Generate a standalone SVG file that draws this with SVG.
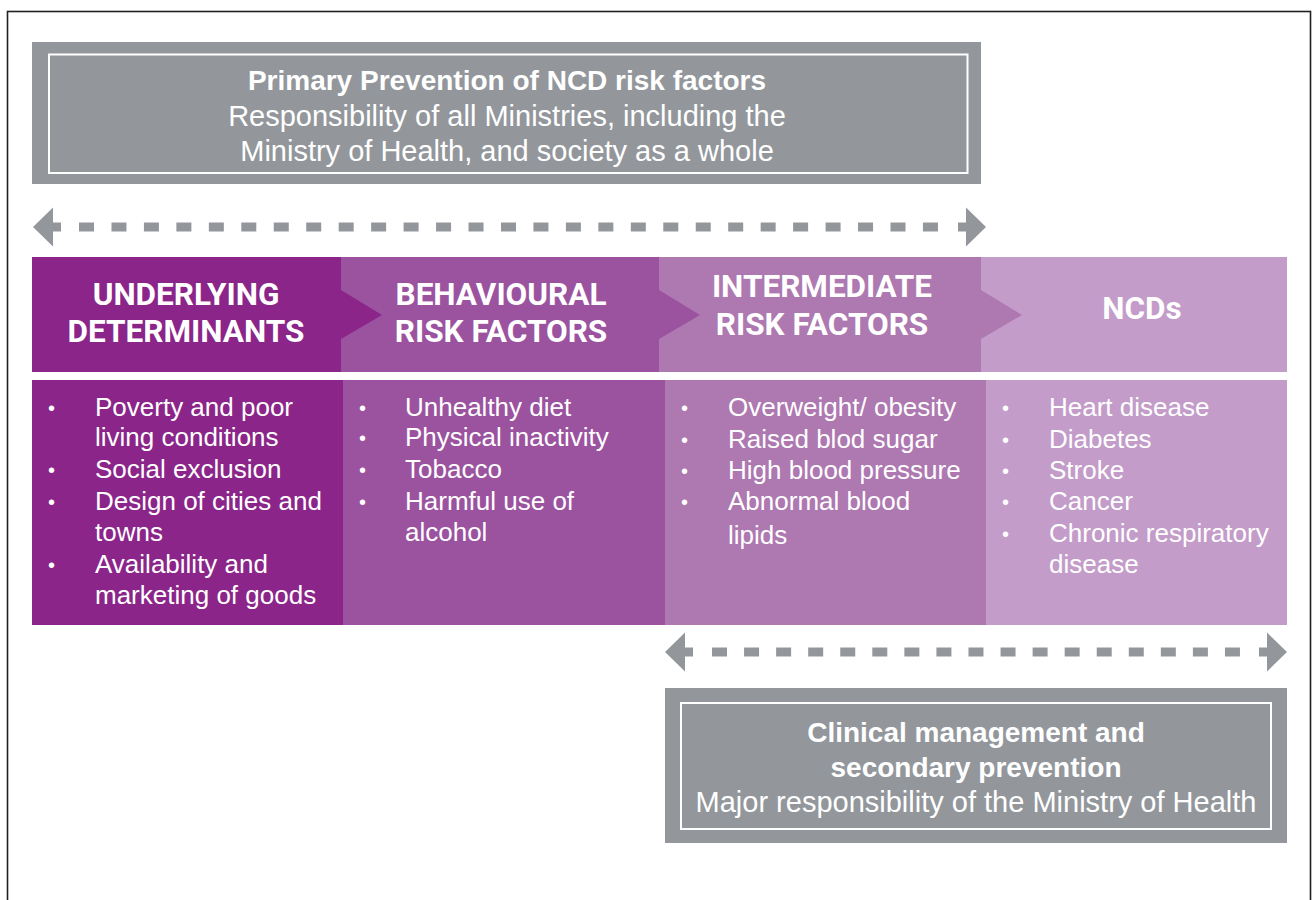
<svg xmlns="http://www.w3.org/2000/svg" width="1314" height="900" viewBox="0 0 1314 900">
<style>
.t{font-family:"Liberation Sans",Arial,sans-serif;fill:#ffffff}
.ttl{font-size:29px;text-anchor:middle}
.ttl.b{font-size:28px}
.b{font-weight:700}
.hd{font-family:Roboto,"Liberation Sans",Arial,sans-serif;font-weight:700;font-size:31.5px;text-anchor:middle;fill:#ffffff}
.li{font-size:26px}
.bu{font-size:20px}
.gray{fill:#93979c}
.inner{fill:none;stroke:#ffffff;stroke-width:2}
.c1{fill:#8b2589}
.c2{fill:#9b53a0}
.c3{fill:#ae78b1}
.c4{fill:#c39cc9}
.dash{stroke:#93979c;stroke-width:9;fill:none}
</style>
<defs>
<path id="head" d="M0,0 L20,-19.5 L20,-4.5 L28,-4.5 L28,4.5 L20,4.5 L20,19.5 Z" fill="#93979c"/>
</defs>
<rect x="0" y="0" width="1314" height="900" fill="#ffffff"/>
<rect x="7.5" y="11.5" width="1303" height="900" fill="none" stroke="#231f20" stroke-width="1.6"/>

<g id="primary-prevention">
<rect class="gray" x="32" y="42" width="949" height="142"/>
<rect class="inner" x="49" y="54.5" width="918.5" height="118.5"/>
<text class="t ttl b" x="507" y="90">Primary Prevention of NCD risk factors</text>
<text class="t ttl" x="507" y="126">Responsibility of all Ministries, including the</text>
<text class="t ttl" x="507" y="161">Ministry of Health, and society as a whole</text>
</g>

<g id="underlying-determinants">
<rect class="c1" x="32" y="257" width="309" height="115"/>
<rect class="c1" x="32" y="380" width="311" height="245"/>
<text class="hd" x="186" y="305">UNDERLYING</text>
<text class="hd" x="186" y="342">DETERMINANTS</text>
<g class="t">
<text class="bu" x="48" y="415">•</text>
<text class="bu" x="48" y="477">•</text>
<text class="bu" x="48" y="509">•</text>
<text class="bu" x="48" y="572">•</text>
<text class="li" x="95" y="416">Poverty and poor</text>
<text class="li" x="95" y="446">living conditions</text>
<text class="li" x="95" y="478">Social exclusion</text>
<text class="li" x="95" y="510">Design of cities and</text>
<text class="li" x="95" y="541">towns</text>
<text class="li" x="95" y="573">Availability and</text>
<text class="li" x="95" y="604">marketing of goods</text>
</g>
</g>

<g id="behavioural-risk-factors">
<rect class="c2" x="341" y="257" width="318" height="115"/>
<polygon class="c1" points="341,290 382,315 341,339"/>
<rect class="c2" x="343" y="380" width="322" height="245"/>
<text class="hd" x="501" y="305">BEHAVIOURAL</text>
<text class="hd" x="501" y="342">RISK FACTORS</text>
<g class="t">
<text class="bu" x="359" y="415">•</text>
<text class="bu" x="359" y="445">•</text>
<text class="bu" x="359" y="477">•</text>
<text class="bu" x="359" y="509">•</text>
<text class="li" x="405" y="416">Unhealthy diet</text>
<text class="li" x="405" y="446">Physical inactivity</text>
<text class="li" x="405" y="478">Tobacco</text>
<text class="li" x="405" y="510">Harmful use of</text>
<text class="li" x="405" y="541">alcohol</text>
</g>
</g>

<g id="intermediate-risk-factors">
<rect class="c3" x="659" y="257" width="322" height="115"/>
<polygon class="c2" points="659,290 700,315 659,339"/>
<rect class="c3" x="665" y="380" width="321" height="245"/>
<text class="hd" x="822" y="297">INTERMEDIATE</text>
<text class="hd" x="822" y="335">RISK FACTORS</text>
<g class="t">
<text class="bu" x="681" y="415">•</text>
<text class="bu" x="681" y="447">•</text>
<text class="bu" x="681" y="478">•</text>
<text class="bu" x="681" y="509">•</text>
<text class="li" x="728" y="416">Overweight/ obesity</text>
<text class="li" x="728" y="448">Raised blod sugar</text>
<text class="li" x="728" y="479">High blood pressure</text>
<text class="li" x="728" y="510">Abnormal blood</text>
<text class="li" x="728" y="544">lipids</text>
</g>
</g>

<g id="ncds">
<rect class="c4" x="981" y="257" width="306" height="115"/>
<polygon class="c3" points="981,290 1022,315 981,339"/>
<rect class="c4" x="986" y="380" width="301" height="245"/>
<text class="hd" x="1142" y="319">NCDs</text>
<g class="t">
<text class="bu" x="1002" y="415">•</text>
<text class="bu" x="1002" y="447">•</text>
<text class="bu" x="1002" y="478">•</text>
<text class="bu" x="1002" y="509">•</text>
<text class="bu" x="1002" y="541">•</text>
<text class="li" x="1049" y="416">Heart disease</text>
<text class="li" x="1049" y="448">Diabetes</text>
<text class="li" x="1049" y="479">Stroke</text>
<text class="li" x="1049" y="510">Cancer</text>
<text class="li" x="1049" y="542">Chronic respiratory</text>
<text class="li" x="1049" y="573">disease</text>
</g>
</g>

<g id="clinical-management">
<rect class="gray" x="665" y="688" width="622" height="155"/>
<rect class="inner" x="681" y="703" width="590" height="126"/>
<text class="t ttl b" x="976" y="742">Clinical management and</text>
<text class="t ttl b" x="976" y="777">secondary prevention</text>
<text class="t ttl" x="976" y="812">Major responsibility of the Ministry of Health</text>
</g>

<g id="connectors">
<g id="arrow-primary">
<use href="#head" transform="translate(33,227)"/>
<line class="dash" x1="79" y1="227" x2="938" y2="227" stroke-dasharray="15 17.46"/>
<use href="#head" transform="translate(986,227) scale(-1,1)"/>
</g>
<g id="arrow-clinical">
<use href="#head" transform="translate(665,652)"/>
<line class="dash" x1="712" y1="652" x2="1241" y2="652" stroke-dasharray="15 17.06"/>
<use href="#head" transform="translate(1287,652) scale(-1,1)"/>
</g>
</g>
</svg>
